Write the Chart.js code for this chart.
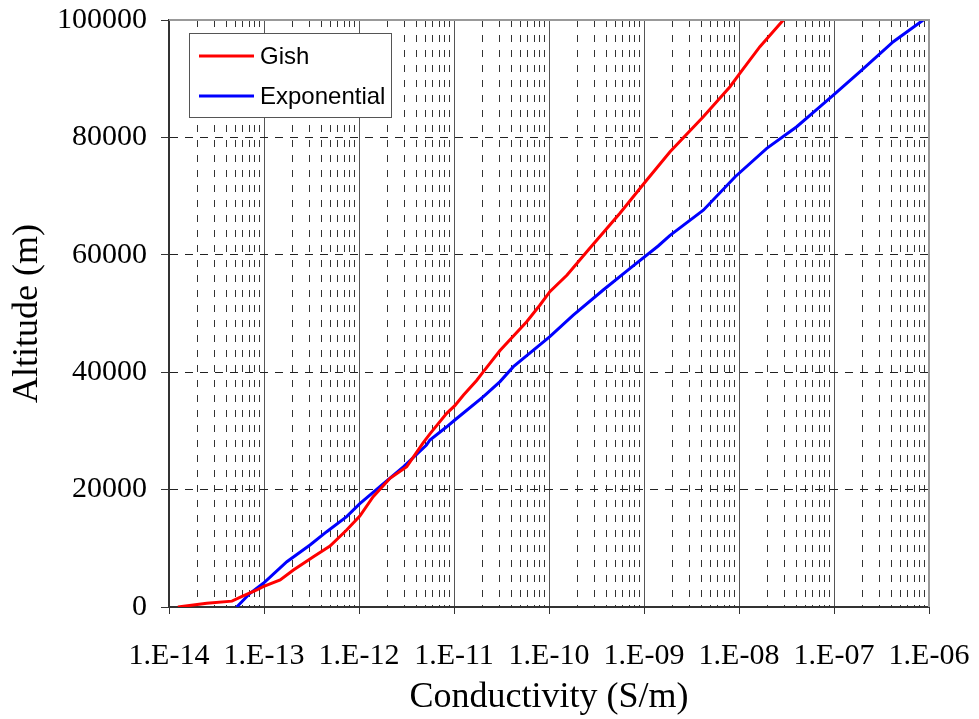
<!DOCTYPE html>
<html>
<head>
<meta charset="utf-8">
<script src="https://cdn.jsdelivr.net/npm/chart.js@4.4.1/dist/chart.umd.min.js"></script>
<style>
  html, body { margin: 0; padding: 0; background: #fff; }
  #wrap { width: 979px; height: 719px; }
</style>
</head>
<body>
<div id="wrap"><canvas id="condChart" width="979" height="719"></canvas></div>
<script>
// Gish profile: conductivity (S/m) vs altitude (m)
const gishConductivity = [1.24e-14, 2.5e-14, 4.6e-14, 5.8e-14, 8.4e-14, 9.8e-14, 1.48e-13, 2.04e-13,
    3.31e-13, 4.95e-13, 7.41e-13, 1.02e-12, 1.41e-12, 2.12e-12, 3.18e-12, 4.75e-12, 5.58e-12,
    8.38e-12, 1.02e-11, 1.26e-11, 1.73e-11, 2.04e-11, 3.05e-11, 5.82e-11, 8.04e-11, 1.02e-10,
    1.55e-10, 2.59e-10, 5.58e-10, 1.07e-9, 1.88e-9, 4.21e-9, 8.04e-9, 1.02e-8, 1.66e-8, 2.93e-8];
const gishAltitude = [0, 630, 1000, 1750, 2900, 3460, 4600, 6300,
    8570, 10390, 13120, 15500, 18790, 21920, 23900, 28000, 29500,
    33000, 34300, 36100, 38600, 40100, 43700, 48600, 51450, 53720,
    56560, 60820, 67070, 72740, 77560, 83530, 88640, 90920, 95460, 100000];

// Exponential profile
const expConductivity = [5.16e-14, 7.13e-14, 9.84e-14, 1.74e-13, 3.05e-13, 4.57e-13, 7.41e-13,
    1.02e-12, 1.66e-12, 2.95e-12, 5.13e-12, 5.58e-12, 8.38e-12, 1.02e-11, 2.04e-11, 3.05e-11,
    4.22e-11, 1.02e-10, 1.80e-10, 3.72e-10, 7.13e-10, 1.41e-9, 1.88e-9, 4.21e-9, 9.12e-9,
    1.96e-8, 4.05e-8, 7.13e-8, 9.84e-8, 1.88e-7, 4.21e-7, 8.71e-7];
const expAltitude = [0, 2330, 4040, 7720, 10560, 12830, 15390,
    17600, 20500, 23900, 27600, 28450, 30700, 31860, 35830, 38400,
    40940, 46050, 49740, 54000, 57700, 61500, 63300, 67600, 73300,
    78140, 81820, 85230, 87220, 91190, 96300, 100000];

// axis ticks
const xMajorValues = [1e-14, 1e-13, 1e-12, 1e-11, 1e-10, 1e-9, 1e-8, 1e-7, 1e-6];
const xTickLabels = ['1.E-14', '1.E-13', '1.E-12', '1.E-11', '1.E-10', '1.E-09', '1.E-08', '1.E-07', '1.E-06'];
const yTickValues = [0, 20000, 40000, 60000, 80000, 100000];

const serif = "'Times New Roman', 'Liberation Serif', serif";
const sans = "Arial, 'Liberation Sans', sans-serif";

function toPoints(xs, ys) {
    return xs.map((x, i) => ({ x: x, y: ys[i] }));
}

function majorIndex(value) {
    return xMajorValues.findIndex(v => Math.abs(Math.log10(v) - Math.log10(value)) < 1e-6);
}

// drop the label overflow padding so the plot box sits where the layout puts it
function noOverflow(scale) {
    scale.paddingLeft = 0;
    scale.paddingRight = 0;
    scale.paddingTop = 0;
    scale.paddingBottom = 0;
}

// gray frame on top/right and the boxed legend inside the plot
const framePlugin = {
    id: 'frame',
    afterDatasetsDraw(chart) {
        const ctx = chart.ctx;
        const a = chart.chartArea;
        ctx.save();
        ctx.strokeStyle = '#999';
        ctx.lineWidth = 2;
        ctx.beginPath();
        ctx.moveTo(a.left, a.top);
        ctx.lineTo(a.right, a.top);
        ctx.lineTo(a.right, a.bottom);
        ctx.stroke();

        // legend
        ctx.fillStyle = '#fff';
        ctx.fillRect(189, 33, 202, 84);
        ctx.strokeStyle = '#555';
        ctx.lineWidth = 1;
        ctx.strokeRect(189.5, 33.5, 202, 84);
        ctx.font = '24px ' + sans;
        ctx.textBaseline = 'middle';
        chart.data.datasets.forEach((ds, i) => {
            const y = 56 + i * 40;
            ctx.strokeStyle = ds.borderColor;
            ctx.lineWidth = 3;
            ctx.beginPath();
            ctx.moveTo(199, y);
            ctx.lineTo(254, y);
            ctx.stroke();
            ctx.fillStyle = '#000';
            ctx.fillText(ds.label, 260, y + 1);
        });
        ctx.restore();
    }
};

const ctx = document.getElementById('condChart').getContext('2d');
const condChart = new Chart(ctx, {
    type: 'scatter',
    data: {
        datasets: [{
            label: 'Gish',
            data: toPoints(gishConductivity, gishAltitude),
            borderColor: '#ff0000',
            backgroundColor: '#ff0000',
            borderWidth: 3,
            showLine: true,
            pointRadius: 0,
            tension: 0
        }, {
            label: 'Exponential',
            data: toPoints(expConductivity, expAltitude),
            borderColor: '#0000ff',
            backgroundColor: '#0000ff',
            borderWidth: 3,
            showLine: true,
            pointRadius: 0,
            tension: 0
        }]
    },
    options: {
        responsive: false,
        animation: false,
        devicePixelRatio: 1,
        layout: { padding: { top: 20, right: 50, left: 0, bottom: 0 } },
        plugins: {
            legend: { display: false },
            tooltip: { enabled: false }
        },
        scales: {
            x: {
                type: 'logarithmic',
                min: 1e-14,
                max: 1e-6,
                afterBuildTicks: function(scale) {
                    const ticks = [];
                    xMajorValues.forEach((v, i) => {
                        ticks.push({ value: v, major: true });
                        if (i < xMajorValues.length - 1) {
                            for (let k = 2; k <= 9; k++) ticks.push({ value: v * k, major: false });
                        }
                    });
                    scale.ticks = ticks;
                },
                afterFit: function(scale) {
                    scale.height = 112;
                    noOverflow(scale);
                },
                ticks: {
                    autoSkip: false,
                    maxRotation: 0,
                    minRotation: 0,
                    padding: 24,
                    color: '#000',
                    font: { family: serif, size: 30 },
                    callback: function(value) {
                        const i = majorIndex(value);
                        return i >= 0 ? xTickLabels[i] : '';
                    }
                },
                grid: {
                    lineWidth: 1,
                    color: function(c) {
                        if (!c.tick) return '#333';
                        return majorIndex(c.tick.value) >= 0 ? '#555' : '#333';
                    },
                    tickLength: 7,
                    tickColor: function(c) {
                        if (!c.tick) return '#333';
                        return majorIndex(c.tick.value) >= 0 ? '#333' : 'rgba(0,0,0,0)';
                    }
                },
                border: {
                    display: true,
                    color: '#333',
                    width: 2,
                    dash: function(c) {
                        if (!c.tick) return [];
                        return majorIndex(c.tick.value) >= 0 ? [] : [7, 8];
                    }
                },
                title: {
                    display: true,
                    text: 'Conductivity (S/m)',
                    color: '#000',
                    font: { family: serif, size: 36, lineHeight: 1.2 },
                    padding: { top: 0, bottom: 0 }
                }
            },
            y: {
                type: 'linear',
                min: 0,
                max: 100000,
                afterBuildTicks: function(scale) {
                    scale.ticks = yTickValues.map(v => ({ value: v }));
                },
                afterFit: function(scale) {
                    scale.width = 169;
                    noOverflow(scale);
                },
                ticks: {
                    padding: 14,
                    color: '#000',
                    font: { family: serif, size: 30 },
                    callback: function(value) { return String(value); }
                },
                grid: {
                    lineWidth: 1,
                    color: '#222',
                    tickLength: 8,
                    tickColor: '#333'
                },
                border: {
                    display: true,
                    color: '#333',
                    width: 2,
                    dash: [8, 7]
                },
                title: {
                    display: true,
                    text: 'Altitude (m)',
                    color: '#000',
                    font: { family: serif, size: 36, lineHeight: 1.2 },
                    padding: { top: 6, bottom: 0 }
                }
            }
        }
    },
    plugins: [framePlugin]
});
</script>
</body>
</html>
